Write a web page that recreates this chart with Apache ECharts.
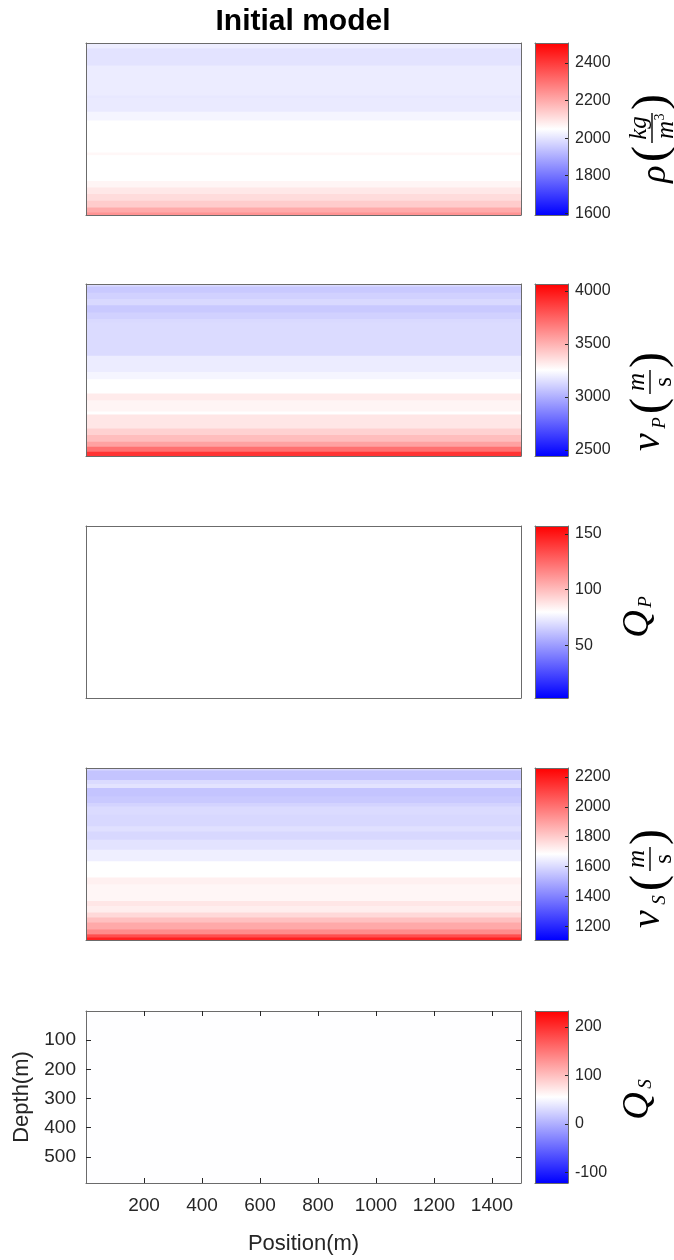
<!DOCTYPE html>
<html>
<head>
<meta charset="utf-8">
<script src="https://cdn.jsdelivr.net/npm/echarts@6/dist/echarts.min.js"></script>
<style>
  html, body { margin: 0; padding: 0; background: #fff; }
  #chart { width: 674px; height: 1260px; }
</style>
</head>
<body>
<div id="chart"></div>
<script>
  // model extent (m)
  var xRange = [0, 1500];
  var depthRange = [0, 590];

  // layer bottoms (m) and values, top to bottom
  var rhoDepth = [18, 77, 180, 189, 236, 266, 376, 385, 473, 496, 518, 541, 564, 581, 590];
  var rhoVal = [2016, 1998, 2014, 2007, 2011, 2030, 2048, 2062, 2048, 2066, 2089, 2112, 2140, 2200, 2240];

  var vpDepth = [9, 30, 52, 73, 98, 120, 132, 246, 302, 327, 376, 399, 437, 448, 496, 518, 541, 558, 575, 590];
  var vpVal = [3141, 3084, 3108, 3133, 3084, 3108, 3133, 3141, 3193, 3222, 3254, 3319, 3286, 3254, 3335, 3400, 3465, 3554, 3708, 3902];

  var qpDepth = [590];
  var qpVal = [80];

  var vsDepth = [9, 41, 55, 69, 98, 120, 132, 160, 200, 217, 246, 280, 320, 376, 399, 456, 473, 496, 513, 530, 553, 570, 581, 590];
  var vsVal = [1596, 1550, 1602, 1620, 1550, 1562, 1585, 1602, 1596, 1614, 1596, 1620, 1648, 1683, 1718, 1703, 1741, 1723, 1770, 1827, 1879, 1943, 2081, 2185];

  var qsDepth = [590];
  var qsVal = [55];

  // colour limits
  var rhoRange = [1590, 2507];
  var vpRange = [2444, 4065];
  var qpRange = [3, 157];
  var vsRange = [1107, 2260];
  var qsRange = [-122, 233];

  // tick labels
  var rhoTicks = [1600, 1800, 2000, 2200, 2400];
  var vpTicks = [2500, 3000, 3500, 4000];
  var qpTicks = [50, 100, 150];
  var vsTicks = [1200, 1400, 1600, 1800, 2000, 2200];
  var qsTicks = [-100, 0, 100, 200];
  var posTicks = [200, 400, 600, 800, 1000, 1200, 1400];
  var depthTicks = [100, 200, 300, 400, 500];

  var panels = [
    { depth: rhoDepth, val: rhoVal, range: rhoRange, ticks: rhoTicks },
    { depth: vpDepth, val: vpVal, range: vpRange, ticks: vpTicks },
    { depth: qpDepth, val: qpVal, range: qpRange, ticks: qpTicks },
    { depth: vsDepth, val: vsVal, range: vsRange, ticks: vsTicks },
    { depth: qsDepth, val: qsVal, range: qsRange, ticks: qsTicks }
  ];

  // layout
  var plotLeft = 86, plotWidth = 435, barLeft = 535, barWidth = 33, panelH = 172;
  var panelTops = [43, 284, 526, 768, 1011];
  var ink = '#262626', boxColor = '#6b6b6b';

  function mkAxis(gridIndex, position, min, max, o) {
    o = o || {};
    return {
      type: 'value', gridIndex: gridIndex, position: position, min: min, max: max,
      inverse: !!o.inverse, z: 5,
      splitLine: { show: false },
      axisLine: { show: true, onZero: false, lineStyle: { color: boxColor, width: 1 } },
      axisTick: o.ticks ? { show: true, inside: true, length: o.tickLen || 5, customValues: o.ticks, lineStyle: { color: ink } } : { show: false },
      axisLabel: o.labels ? {
        show: true, customValues: o.ticks, margin: o.margin, fontSize: o.fontSize, color: ink, fontFamily: 'Liberation Sans',
        formatter: function (v) { return String(v); }
      } : { show: false },
      name: o.name || '', nameLocation: 'middle', nameGap: o.nameGap || 0,
      nameTextStyle: { fontSize: 22, color: ink, fontFamily: 'Liberation Sans' }
    };
  }

  function renderLayer(params, api) {
    var p0 = api.coord([api.value(0), api.value(2)]);
    var p1 = api.coord([api.value(1), api.value(3)]);
    return {
      type: 'rect',
      shape: { x: p0[0], y: p0[1], width: p1[0] - p0[0], height: p1[1] - p0[1] + 0.6 },
      style: { fill: api.visual('color') }
    };
  }

  function renderBar(params, api) {
    var p0 = api.coord([0, api.value(1)]);
    var p1 = api.coord([1, api.value(0)]);
    return {
      type: 'rect',
      shape: { x: p0[0], y: p0[1], width: p1[0] - p0[0], height: p1[1] - p0[1] },
      style: {
        fill: new echarts.graphic.LinearGradient(0, 0, 0, 1, [
          { offset: 0, color: '#ff0000' }, { offset: 0.5, color: '#ffffff' }, { offset: 1, color: '#0000ff' }
        ])
      }
    };
  }

  var grids = [], xAxes = [], yAxes = [], series = [], visualMaps = [];
  panels.forEach(function (p, i) {
    var last = i === panels.length - 1;
    var g = grids.length;
    grids.push({ left: plotLeft, top: panelTops[i], width: plotWidth, height: panelH });
    grids.push({ left: barLeft, top: panelTops[i], width: barWidth, height: panelH });

    // image box
    xAxes.push(mkAxis(g, 'bottom', xRange[0], xRange[1], last ? { ticks: posTicks, labels: true, margin: 13, fontSize: 19, name: 'Position(m)', nameGap: 50 } : {}));
    xAxes.push(mkAxis(g, 'top', xRange[0], xRange[1], last ? { ticks: posTicks } : {}));
    yAxes.push(mkAxis(g, 'left', depthRange[0], depthRange[1], last ? { inverse: true, ticks: depthTicks, labels: true, margin: 10, fontSize: 19, name: 'Depth(m)', nameGap: 50 } : { inverse: true }));
    yAxes.push(mkAxis(g, 'right', depthRange[0], depthRange[1], last ? { inverse: true, ticks: depthTicks } : { inverse: true }));
    // colourbar box
    xAxes.push(mkAxis(g + 1, 'bottom', 0, 1));
    xAxes.push(mkAxis(g + 1, 'top', 0, 1));
    yAxes.push(mkAxis(g + 1, 'left', p.range[0], p.range[1]));
    yAxes.push(mkAxis(g + 1, 'right', p.range[0], p.range[1], { ticks: p.ticks, labels: true, tickLen: 3, margin: 7, fontSize: 16 }));

    var data = p.depth.map(function (d, k) {
      return [xRange[0], xRange[1], k ? p.depth[k - 1] : depthRange[0], d, p.val[k]];
    });
    visualMaps.push({
      type: 'continuous', show: false, seriesIndex: series.length, dimension: 4,
      min: p.range[0], max: p.range[1],
      inRange: { color: ['#0000ff', '#ffffff', '#ff0000'] }
    });
    series.push({ type: 'custom', xAxisIndex: 4 * i, yAxisIndex: 4 * i, renderItem: renderLayer, data: data, clip: true, silent: true });
    series.push({ type: 'custom', xAxisIndex: 4 * i + 2, yAxisIndex: 4 * i + 3, renderItem: renderBar, data: [[p.range[0], p.range[1]]], silent: true });
  });

  function txt(x, y, s, size, italic) {
    return { type: 'text', x: x, y: y, style: { text: s, font: (italic ? 'italic ' : '') + size + 'px "Liberation Serif"', fill: '#000', align: 'center', verticalAlign: 'middle' } };
  }
  function bar(x1, x2) {
    return { type: 'line', shape: { x1: x1, y1: 0, x2: x2, y2: 0 }, style: { stroke: '#000', lineWidth: 1.4 } };
  }
  function label(cx, cy, children) {
    return { type: 'group', x: cx, y: cy, rotation: Math.PI / 2, children: children };
  }

  var graphics = [
    { type: 'text', x: 303, y: 22, style: { text: 'Initial model', font: 'bold 30px "Liberation Sans"', fill: '#000', align: 'center', verticalAlign: 'middle' } },
    label(652, 130, [
      txt(-44, 4, 'ρ', 36, true), txt(-24, 0, '(', 48), txt(2, -13, 'kg', 25, true), bar(-13, 17),
      txt(0, 14, 'm', 25, true), txt(13, 8, '3', 14), txt(28, 0, ')', 48)
    ]),
    label(650, 386, [
      txt(-56, -2, 'v', 40, true), txt(-37, 10, 'P', 19, true), txt(-20, 0, '(', 48),
      txt(4, -13, 'm', 25, true), bar(-8, 16), txt(4, 14, 's', 25), txt(26, 0, ')', 48)
    ]),
    label(638, 618, [txt(-6, 0, 'Q', 38, true), txt(16, 8, 'P', 19, true)]),
    label(650, 863, [
      txt(-56, -2, 'v', 40, true), txt(-37, 10, 'S', 19, true), txt(-20, 0, '(', 48),
      txt(4, -13, 'm', 25, true), bar(-8, 16), txt(4, 14, 's', 25), txt(26, 0, ')', 48)
    ]),
    label(638, 1100, [txt(-6, 0, 'Q', 38, true), txt(16, 8, 'S', 19, true)])
  ];

  var chart = echarts.init(document.getElementById('chart'));
  chart.setOption({
    animation: false,
    backgroundColor: '#fff',
    grid: grids,
    xAxis: xAxes,
    yAxis: yAxes,
    visualMap: visualMaps,
    series: series,
    graphic: graphics
  });
</script>
</body>
</html>
